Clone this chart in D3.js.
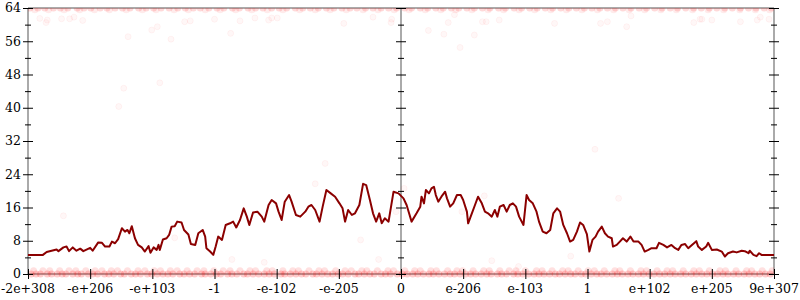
<!DOCTYPE html>
<html>
<head>
<meta charset="utf-8">
<script src="https://cdn.jsdelivr.net/npm/d3@7"></script>
<style>
  body { margin: 0; background: #fff; }
  svg { display: block; }
  .lbl { font-family: 'DejaVu Serif', serif; font-size: 12.5px; fill: #000; }
</style>
</head>
<body>
<svg id="chart" width="800" height="300"></svg>
<script>
// tick labels along x, one per unit of position
const xLabels = ['-2e+308', '-e+206', '-e+103', '-1', '-e-102', '-e-205', '0',
                 'e-206', 'e-103', '1', 'e+102', 'e+205', '9e+307'];
const yMajor = [0, 8, 16, 24, 32, 40, 48, 56, 64];
const yMinor = [4, 12, 20, 28, 36, 44, 52, 60];

// smoothed curve: [position, value]
const trend = [
  [0,4.6],[0.24,4.6],[0.30,5.3],[0.38,5.6],[0.46,5.9],[0.49,5.5],[0.57,6.4],[0.62,6.6],[0.66,5.5],
  [0.72,6.4],[0.78,5.6],[0.84,6.1],[0.89,5.5],[1.00,6.3],[1.04,5.6],[1.13,7.6],[1.19,7.5],[1.24,6.6],
  [1.31,6.6],[1.35,7.8],[1.40,7.4],[1.45,8.4],[1.51,11.0],[1.56,10.2],[1.60,10.6],[1.63,9.8],[1.67,11.5],
  [1.72,8.6],[1.77,7.0],[1.83,6.4],[1.88,5.4],[1.94,6.7],[1.97,5.1],[2.02,6.4],[2.07,5.8],[2.10,7.0],
  [2.12,5.8],[2.17,8.3],[2.23,8.6],[2.27,9.4],[2.31,11.4],[2.36,11.5],[2.40,12.6],[2.47,12.4],[2.51,10.6],
  [2.58,9.5],[2.62,7.2],[2.69,7.0],[2.74,9.8],[2.81,10.6],[2.85,9.0],[2.87,6.2],[2.93,5.4],[2.98,4.6],
  [3.02,6.7],[3.06,9.0],[3.12,8.2],[3.18,11.8],[3.25,12.2],[3.30,12.6],[3.35,11.2],[3.41,13.0],[3.47,15.8],
  [3.52,13.8],[3.56,11.8],[3.62,14.8],[3.69,15.0],[3.76,13.8],[3.80,12.6],[3.87,16.6],[3.92,17.8],[3.99,17.0],
  [4.03,15.0],[4.08,13.0],[4.13,17.4],[4.20,19.0],[4.24,17.4],[4.31,14.2],[4.38,13.8],[4.46,15.0],[4.51,16.2],
  [4.56,16.6],[4.62,15.4],[4.69,12.6],[4.74,16.2],[4.80,20.2],[4.87,19.4],[4.94,18.6],[5.01,17.0],[5.06,15.8],
  [5.10,12.6],[5.15,15.4],[5.21,14.2],[5.26,14.6],[5.33,16.6],[5.39,21.7],[5.44,21.4],[5.50,17.8],[5.55,14.6],
  [5.60,12.6],[5.65,14.6],[5.69,12.2],[5.74,13.4],[5.80,12.6],[5.88,19.8],[5.96,19.4],[6.04,18.2],[6.09,16.6],
  [6.13,14.6],[6.17,12.6],[6.25,14.6],[6.31,16.2],[6.33,18.6],[6.37,17.0],[6.40,20.2],[6.45,19.4],[6.49,20.6],
  [6.53,21.0],[6.56,19.0],[6.60,17.4],[6.65,18.6],[6.71,19.8],[6.74,18.2],[6.79,16.2],[6.84,17.0],[6.90,19.0],
  [6.96,19.0],[7.00,17.8],[7.06,15.0],[7.08,12.2],[7.14,14.6],[7.19,16.6],[7.24,18.6],[7.30,17.0],[7.35,15.0],
  [7.40,14.6],[7.46,13.8],[7.51,15.4],[7.55,13.8],[7.59,16.2],[7.65,16.6],[7.70,15.0],[7.75,16.6],[7.80,17.0],
  [7.85,16.2],[7.90,13.8],[7.97,11.8],[8.02,19.0],[8.06,17.8],[8.12,17.0],[8.18,15.0],[8.22,12.6],[8.28,10.2],
  [8.34,9.8],[8.40,10.6],[8.45,14.6],[8.51,15.8],[8.56,15.0],[8.61,11.8],[8.67,9.8],[8.72,7.8],[8.77,8.2],
  [8.83,10.2],[8.88,12.4],[8.93,11.8],[8.99,9.6],[9.03,5.4],[9.08,8.2],[9.13,9.0],[9.17,10.2],[9.23,11.4],
  [9.28,9.8],[9.33,9.0],[9.39,8.6],[9.41,6.6],[9.47,7.0],[9.52,7.8],[9.57,8.6],[9.63,7.8],[9.69,9.0],
  [9.74,7.8],[9.82,7.8],[9.87,7.0],[9.92,5.4],[9.98,5.8],[10.03,6.2],[10.11,6.2],[10.15,7.5],[10.22,7.0],
  [10.28,6.4],[10.35,7.0],[10.41,6.2],[10.46,5.8],[10.51,7.0],[10.57,7.2],[10.62,6.2],[10.68,7.0],[10.75,7.9],
  [10.78,6.6],[10.84,5.8],[10.91,6.6],[10.94,7.5],[11.00,5.8],[11.08,5.9],[11.16,5.4],[11.21,4.2],[11.26,5.0],
  [11.34,5.4],[11.40,5.2],[11.48,5.6],[11.53,5.5],[11.59,5.0],[11.61,5.6],[11.67,4.6],[11.72,4.3],[11.76,5.0],
  [11.80,4.6],[12.00,4.6]
];

// sparse samples between the bands: [position, value]
const scatter = [
  [0.19,61.5],[0.29,60.5],[0.31,61.1],[0.54,61.4],[0.67,61.4],[0.74,61.8],[0.88,61.0],[0.57,14.0],
  [1.61,57.1],[1.54,44.7],[1.46,40.3],[1.99,58.7],[2.08,59.5],[2.12,46.0],[2.30,56.5],[2.36,8.7],
  [2.52,60.7],[2.61,60.9],[3.00,61.3],[3.26,57.9],[3.28,3.5],[3.41,60.9],[3.65,61.6],[3.80,2.8],
  [3.87,61.1],[3.92,61.6],[4.01,61.6],[4.62,21.7],[4.78,26.6],[5.08,60.3],[5.35,8.2],[5.55,61.8],
  [5.64,3.5],[5.84,60.5],[5.85,61.3],[5.92,15.0],[6.05,20.6],[6.44,58.6],[6.69,57.7],[6.76,60.5],
  [6.86,62.4],[6.95,54.5],[7.18,57.5],[7.31,60.7],[7.37,60.7],[7.58,61.1],[8.47,60.3],[6.98,15.0],
  [7.34,18.8],[7.46,3.2],[7.89,1.8],[8.73,4.3],[9.12,30.0],[9.21,60.3],[9.32,60.7],[9.50,18.2],
  [9.63,59.5],[9.70,62.1],[10.71,60.5],[10.81,61.3],[10.84,61.3],[11.00,61.1],[11.46,60.7],[11.73,61.1],
  [11.78,61.8],[11.92,61.3]
];

// dense bands: positions of samples at each level
const bandLow0 = [0.05,0.13,0.2,0.31,0.38,0.47,0.55,0.61,0.72,0.8,0.86,0.97,1.04,1.12,1.23,1.3,1.38,1.49,
  1.55,1.66,1.73,1.81,1.92,1.99,2.08,2.17,2.25,2.33,2.44,2.51,2.6,2.68,2.79,2.85,2.94,3.03,3.1,3.21,3.28,
  3.36,3.47,3.53,3.62,3.71,3.8,3.88,3.96,4.07,4.13,4.22,4.31,4.4,4.47,4.58,4.64,4.73,4.82,4.9,4.99,5.06,
  5.15,5.26,5.32,5.41,5.5,5.57,5.68,5.75,5.83,5.94,6.02,6.1,6.19,6.27,6.36,6.45,6.52,6.61,6.7,6.79,6.86,
  6.95,7.04,7.12,7.2,7.29,7.38,7.45,7.55,7.62,7.7,7.81,7.88,7.96,8.05,8.14,8.22,8.3,8.39,8.48,8.55,8.64,
  8.73,8.8,8.9,8.97,9.06,9.15,9.22,9.31,9.4,9.48,9.56,9.65,9.73,9.82,9.9,9.99,10.07,10.16,10.24,10.33,
  10.41,10.5,10.58,10.67,10.75,10.84,10.92,11.01,11.09,11.18,11.26,11.35,11.43,11.52,11.6,11.69,11.77,
  11.86,11.94];
const bandLow1 = [0.09,0.24,0.35,0.51,0.66,0.77,0.93,1.08,1.19,1.34,1.44,1.6,1.77,1.88,2.03,2.13,2.29,
  2.4,2.56,2.72,2.83,2.99,3.14,3.25,3.41,3.57,3.66,3.84,3.93,4.1,4.26,4.35,4.52,4.68,4.77,4.95,5.1,5.2,
  5.37,5.45,5.62,5.79,5.88,6.06,6.22,6.31,6.48,6.57,6.75,6.9,6.99,7.16,7.33,7.42,7.59,7.74,7.85,8.0,8.18,
  8.27,8.43,8.6,8.69,8.85,9.01,9.11,9.27,9.44,9.52,9.69,9.86,9.95,10.12,10.28,10.37,10.54,10.71,10.8,
  10.96,11.13,11.22,11.39,11.56,11.64,11.81,11.97];
const bandHigh64 = [0.03,0.16,0.27,0.41,0.52,0.64,0.79,0.9,1.01,1.16,1.27,1.4,1.52,1.64,1.78,1.9,2.02,
  2.14,2.27,2.41,2.53,2.66,2.77,2.91,3.04,3.15,3.29,3.4,3.54,3.66,3.78,3.92,4.04,4.16,4.3,4.42,4.54,4.67,
  4.8,4.92,5.05,5.18,5.29,5.43,5.55,5.68,5.8,5.93,6.06,6.17,6.31,6.43,6.56,6.68,6.81,6.93,7.06,7.18,7.31,
  7.43,7.57,7.68,7.82,7.94,8.07,8.19,8.32,8.44,8.57,8.7,8.82,8.95,9.07,9.2,9.32,9.45,9.57,9.7,9.83,9.95,
  10.08,10.2,10.33,10.45,10.58,10.71,10.83,10.96,11.08,11.21,11.33,11.46,11.59,11.71,11.84,11.96];
const bandHigh63 = [0.11,0.33,0.58,0.83,1.07,1.31,1.58,1.84,2.06,2.35,2.58,2.85,3.09,3.34,3.6,3.85,4.1,
  4.37,4.62,4.86,5.12,5.39,5.63,5.89,6.13,6.39,6.64,6.88,7.14,7.4,7.65,7.9,8.15,8.41,8.66,8.91,9.16,9.42,
  9.67,9.92,10.18,10.43,10.69,10.94,11.19,11.45,11.7,11.93];

const W = 800, H = 300;
const M = { left: 28, right: 774, top: 8, bottom: 274 };

const x = d3.scaleLinear().domain([0, xLabels.length - 1]).range([M.left, M.right]);
const y = d3.scaleLinear().domain([0, 64]).range([M.bottom, M.top]);

const svg = d3.select('#chart');

svg.append('clipPath').attr('id', 'plot')
  .append('rect').attr('x', M.left).attr('y', M.top)
  .attr('width', M.right - M.left).attr('height', H - M.top);

// gray frame lines: left, center, right, top, bottom
const gray = '#aaa';
[0, 6, 12].forEach(p => {
  svg.append('line').attr('x1', x(p)).attr('x2', x(p)).attr('y1', y(64)).attr('y2', y(0))
    .attr('stroke', gray).attr('stroke-width', 2);
});
[0, 64].forEach(v => {
  svg.append('line').attr('x1', x(0)).attr('x2', x(12)).attr('y1', y(v)).attr('y2', y(v))
    .attr('stroke', gray).attr('stroke-width', 2);
});

// samples: the bands stack far more points than listed, so they get a stronger tint
const plot = svg.append('g').attr('clip-path', 'url(#plot)');

function drawDots(data, alpha, r, ring) {
  plot.append('g').selectAll('circle').data(data).join('circle')
    .attr('cx', d => x(d[0])).attr('cy', d => y(d[1])).attr('r', r)
    .attr('fill', 'red').attr('fill-opacity', alpha)
    .attr('stroke', ring ? 'red' : 'none').attr('stroke-opacity', alpha * 1.5);
}
drawDots(scatter, 0.03, 3, true);
drawDots(bandLow1.map(p => [p, 0.8]), 0.12, 3.5, false);
drawDots(bandLow0.map(p => [p, 0]), 0.2, 3.5, false);
drawDots(bandHigh63.map(p => [p, 63.6]), 0.08, 3.5, false);
drawDots(bandHigh64.map(p => [p, 64]), 0.15, 3.5, false);

// trend line
svg.append('path').datum(trend)
  .attr('fill', 'none').attr('stroke', '#8b0000').attr('stroke-width', 2)
  .attr('stroke-linejoin', 'round')
  .attr('d', d3.line().x(d => x(d[0])).y(d => y(d[1])));

// ticks on the three vertical axes
const ticks = svg.append('g').attr('stroke', '#000').attr('stroke-width', 1);
[0, 6, 12].forEach(p => {
  ticks.selectAll(null).data(yMajor).join('line')
    .attr('x1', x(p) - 5).attr('x2', x(p) + 5)
    .attr('y1', d => y(d) + 0.5).attr('y2', d => y(d) + 0.5);
  ticks.selectAll(null).data(yMinor).join('line')
    .attr('x1', x(p) - 3).attr('x2', x(p) + 3)
    .attr('y1', d => y(d) + 0.5).attr('y2', d => y(d) + 0.5);
});
ticks.selectAll(null).data(xLabels).join('line')
  .attr('x1', (d, i) => x(i) + 0.5).attr('x2', (d, i) => x(i) + 0.5)
  .attr('y1', y(0) - 5).attr('y2', y(0) + 5);

// labels
svg.append('g').selectAll('text').data(yMajor).join('text')
  .attr('class', 'lbl')
  .attr('x', M.left - 7).attr('y', d => y(d)).attr('dy', '0.35em')
  .attr('text-anchor', 'end')
  .text(d => d);

svg.append('g').selectAll('text').data(xLabels).join('text')
  .attr('class', 'lbl')
  .attr('x', (d, i) => x(i)).attr('y', 293)
  .attr('text-anchor', 'middle')
  .text(d => d);
</script>
</body>
</html>
